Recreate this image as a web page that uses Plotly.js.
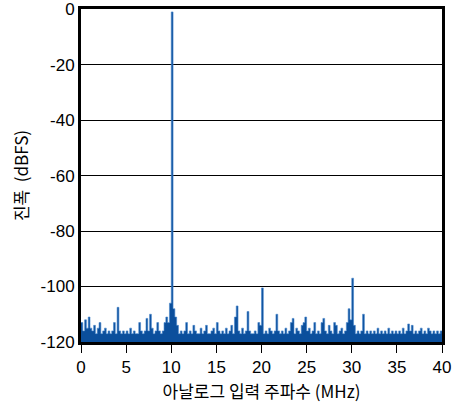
<!DOCTYPE html>
<html>
<head>
<meta charset="utf-8">
<script src="https://cdn.plot.ly/plotly-3.0.1.min.js"></script>
<style>html,body{margin:0;padding:0;background:#fff;}#chart{width:452px;height:406px;}</style>
</head>
<body>
<div id="chart"></div>
<script>
// Frequency axis: 0 to 40 MHz, step 0.2 MHz
const freqStart = 0;
const freqStep = 0.2;
// Amplitude (dBFS), one value per 0.2 MHz bin
const amplitude = [
  -113, -116, -112, -115, -111, -115,
  -116, -114, -117, -115, -113,
  -117, -116, -115, -117, -116,
  -117, -116, -113, -117, -107.5,
  -116, -117, -116, -117, -116,
  -117, -115, -117, -116, -117,
  -117, -113, -116, -117, -116,
  -111.5, -116, -110, -115, -117,
  -116, -113, -116, -117, -116,
  -113, -111, -113, -106, -1,
  -108, -111, -114, -117, -116,
  -117, -116, -113, -117, -116,
  -117, -114, -116, -117, -117,
  -115, -117, -116, -114, -117,
  -117, -116, -115, -117, -113,
  -116, -117, -116, -117, -115,
  -117, -116, -114, -117, -111,
  -107, -116, -117, -115, -117,
  -116, -109, -116, -117, -117,
  -116, -117, -113, -114, -100.5,
  -117, -116, -117, -115, -116,
  -117, -116, -110, -116, -117,
  -116, -117, -115, -117, -116,
  -113, -111.5, -117, -115, -116,
  -117, -114, -113, -111, -116,
  -115, -117, -116, -113, -117,
  -116, -117, -113, -111.5, -116,
  -117, -114, -116, -117, -113,
  -114, -117, -116, -115, -117,
  -116, -113, -108, -112, -97,
  -114, -117, -116, -117, -116,
  -110, -117, -116, -117, -116,
  -117, -116, -117, -115, -117,
  -116, -117, -116, -117, -115,
  -117, -116, -117, -116, -117,
  -116, -117, -115, -117, -116,
  -113.5, -116, -114, -117, -116,
  -117, -116, -115, -117, -116,
  -117, -115, -116, -117, -116,
  -117, -116, -117, -116, -117
];
const frequency = amplitude.map((_, i) => +(freqStart + i * freqStep).toFixed(1));

const xTickVals = [0, 5, 10, 15, 20, 25, 30, 35, 40];
const xTickText = ['0', '5', '10', '15', '20', '25', '30', '35', '40'];
const yTickVals = [0, -20, -40, -60, -80, -100, -120];
const yTickText = ['0', '-20', '-40', '-60', '-80', '-100', '-120'];
const xTitle = '아날로그 입력 주파수 (MHz)';
const yTitle = '진폭  (dBFS)';

const FONT = '"Liberation Sans", Arial, sans-serif';
const KFONT = '"Noto Sans CJK KR", "Liberation Sans", sans-serif';

const baseline = {
  x: [frequency[0], frequency[frequency.length - 1] + freqStep],
  y: [-120, -120],
  mode: 'lines', line: {width: 0}, hoverinfo: 'skip', showlegend: false
};
const spectrum = {
  x: frequency, y: amplitude,
  mode: 'lines', line: {shape: 'hv', color: '#4a88cc', width: 0.6},
  fill: 'tonexty', fillcolor: '#0b4f9c', showlegend: false
};

const layout = {
  width: 452, height: 406,
  margin: {l: 81, r: 10, t: 9, b: 64},
  paper_bgcolor: '#fff', plot_bgcolor: '#fff',
  showlegend: false,
  font: {family: FONT, size: 17, color: '#000'},
  xaxis: {
    range: [0, 40], tickvals: xTickVals, ticktext: xTickText,
    ticks: 'outside', ticklen: 8, tickwidth: 1, tickcolor: '#000',
    showgrid: false, zeroline: false,
    showline: true, linecolor: '#000', linewidth: 3, mirror: true,
    tickfont: {family: FONT, size: 17},
    title: {text: xTitle, font: {family: KFONT, size: 17}, standoff: 10}
  },
  yaxis: {
    range: [-120, 0.05], tickvals: yTickVals, ticktext: yTickText,
    ticks: '', showgrid: true, gridcolor: '#000', gridwidth: 1, zeroline: false,
    showline: true, linecolor: '#000', linewidth: 3, mirror: true,
    tickfont: {family: FONT, size: 17},
    title: {text: yTitle, font: {family: KFONT, size: 17}, standoff: 8}
  }
};

Plotly.newPlot('chart', [baseline, spectrum], layout, {staticPlot: true, displayModeBar: false});
</script>
</body>
</html>
